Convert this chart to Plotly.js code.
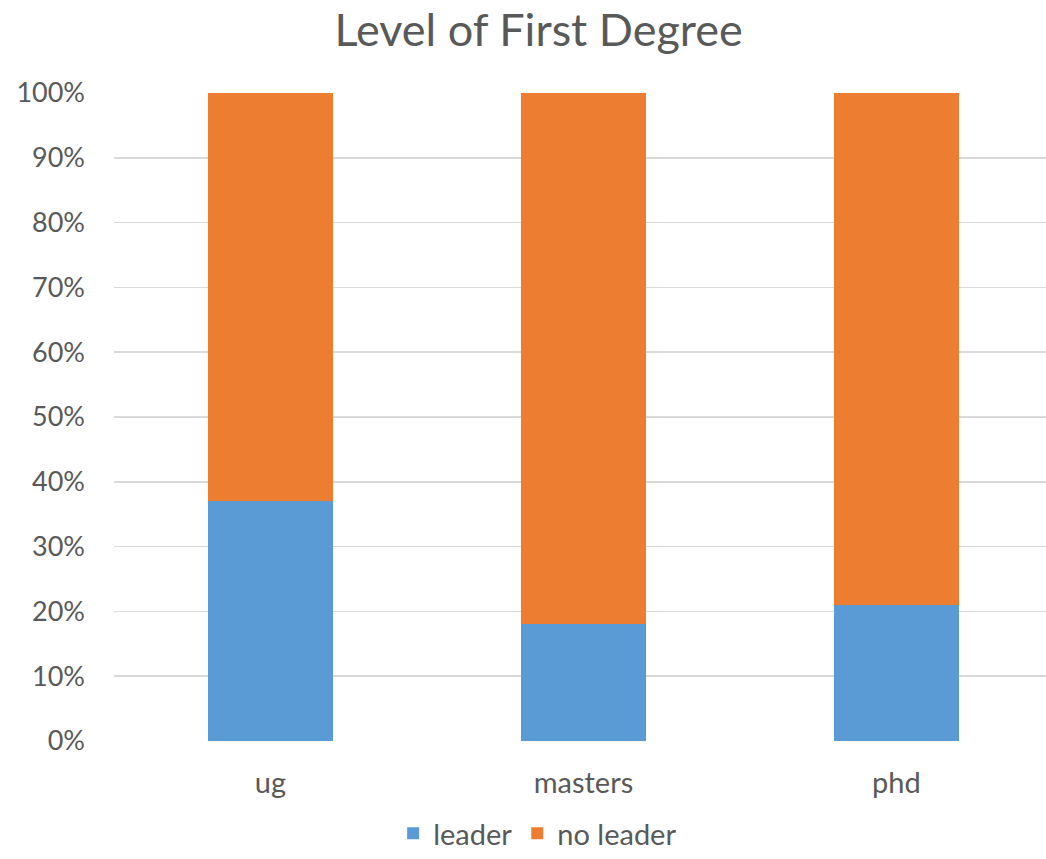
<!DOCTYPE html>
<html>
<head>
<meta charset="utf-8">
<script src="https://cdn.plot.ly/plotly-3.0.1.min.js"></script>
<style>html,body{margin:0;padding:0;background:#fff;}#chart{width:1046px;height:859px;}</style>
</head>
<body>
<div id="chart"></div>
<script>
var categories = ["ug", "masters", "phd"];
var leader = [37, 18, 21];
var noLeader = [63, 82, 79];
var yTickVals = [0, 10, 20, 30, 40, 50, 60, 70, 80, 90, 100];
var yTickText = ["0%", "10%", "20%", "30%", "40%", "50%", "60%", "70%", "80%", "90%", "100%"];

var fontFam = "Lato, 'Open Sans', sans-serif";
var txt = "#595959";

var traces = [
  {type: "bar", name: "leader", x: categories, y: leader, marker: {color: "#5B9BD5"}, width: 0.4, hoverinfo: "y"},
  {type: "bar", name: "no leader", x: categories, y: noLeader, marker: {color: "#ED7D31"}, width: 0.4, hoverinfo: "y"}
];

var layout = {
  width: 1046, height: 859,
  barmode: "stack",
  paper_bgcolor: "#fff", plot_bgcolor: "#fff",
  margin: {l: 114, r: 0, t: 93, b: 118},
  font: {family: fontFam, color: txt, size: 27},
  title: {text: "Level of First Degree", font: {family: fontFam, size: 45, color: txt}, x: 0.515, xref: "container", xanchor: "center", y: 0.965, yanchor: "middle", yref: "container"},
  xaxis: {type: "category", range: [-0.5, 2.478], showgrid: false, zeroline: false, showline: false, ticks: "", ticklabelstandoff: 22, tickfont: {size: 29, color: txt}, fixedrange: true},
  yaxis: {range: [0, 100], tickvals: yTickVals, ticktext: yTickText, showgrid: true, gridcolor: "#D9D9D9", gridwidth: 1.5, zeroline: false, showline: false, ticks: "", ticklabelstandoff: 28, tickfont: {size: 27, color: txt}, fixedrange: true},
  legend: {orientation: "h", x: 0.514, xanchor: "center", xref: "container", y: 0, yanchor: "bottom", yref: "container", font: {size: 29, color: txt}, traceorder: "normal", itemwidth: 30},
  showlegend: true
};

Plotly.newPlot("chart", traces, layout, {staticPlot: true});
</script>
</body>
</html>
